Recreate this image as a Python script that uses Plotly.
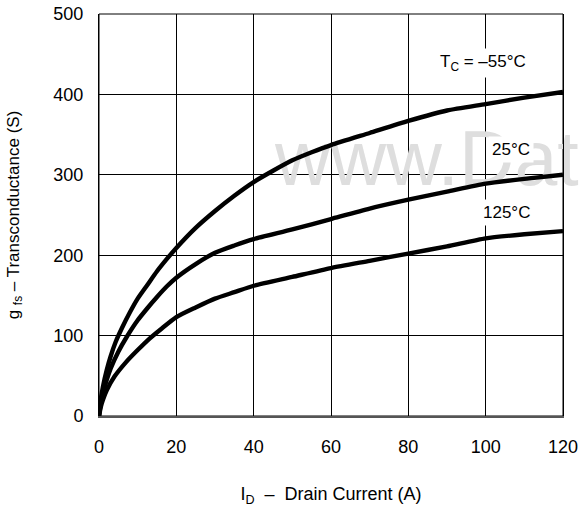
import plotly.graph_objects as go

# Drain current (A) and transconductance (S) for each case temperature
x_m55 = [0, 0.5, 1, 2, 3, 4.3, 6, 8, 10, 12.5, 15, 17.5, 20, 25, 30, 35, 40, 45, 50, 55, 60, 70, 80, 90, 100, 110, 120]
y_m55 = [0, 22, 36, 57, 74, 92, 110, 129, 146, 163, 180, 195, 209, 234, 255, 274, 291, 305, 318, 328, 337, 352, 367, 380, 388, 396, 403]

x_25 = [0, 0.5, 1, 2, 3, 5, 7, 10, 12.5, 15, 17.5, 20, 25, 30, 35, 40, 50, 60, 70, 80, 90, 100, 110, 120]
y_25 = [0, 17, 28, 45, 59, 80, 97, 119, 134, 148, 161, 172, 189, 203, 212, 220, 232, 245, 258, 269, 279, 289, 295, 300]

x_125 = [0, 0.5, 1, 2, 4, 7, 10, 13, 16, 20, 25, 30, 35, 40, 50, 60, 70, 80, 90, 100, 110, 120]
y_125 = [0, 12, 20, 32, 49, 67, 82, 96, 108, 123, 135, 146, 154, 162, 173, 184, 193, 202, 211, 221, 226, 230]

labels = ["T<sub>C</sub> = \u201355\u00b0C", "25\u00b0C", "125\u00b0C"]
label_x = [99.3, 106.5, 105.4]
label_y = [439, 332, 253]

x_ticks = [0, 20, 40, 60, 80, 100, 120]
y_ticks = [0, 100, 200, 300, 400, 500]

FONT = "Liberation Sans, Arial, sans-serif"

fig = go.Figure()

# faint watermark underneath the curves
fig.add_trace(go.Scatter(
    x=[45.5], y=[311], mode="text", text=["www.DataSheet4U.com"],
    textposition="middle right", cliponaxis=False, hoverinfo="skip",
    textfont=dict(family=FONT, size=77, color="#dedede"), showlegend=False))

for xs, ys in [(x_m55, y_m55), (x_25, y_25), (x_125, y_125)]:
    fig.add_trace(go.Scatter(
        x=xs, y=ys, mode="lines",
        line=dict(color="black", width=4.4, shape="spline", smoothing=0.6),
        showlegend=False))

for t, lx, ly in zip(labels, label_x, label_y):
    fig.add_annotation(x=lx, y=ly, text=t, showarrow=False, bgcolor="white",
                       borderpad=3,
                       font=dict(family=FONT, size=17, color="black"),
                       xanchor="center", yanchor="middle")

fig.update_layout(
    width=579, height=507,
    margin=dict(l=99, r=16, t=14, b=91, autoexpand=False),
    plot_bgcolor="white", paper_bgcolor="white",
    font=dict(family=FONT, size=18, color="black"),
)
fig.update_xaxes(
    range=[0, 120], tickvals=x_ticks, showgrid=True, gridcolor="black", gridwidth=1,
    showline=True, linecolor="#555555", linewidth=2, mirror=False, zeroline=False,
    ticks="", ticklabelstandoff=13, tickfont=dict(size=18),
    title=dict(text="I<sub>D</sub>  \u2013  Drain Current (A)", standoff=34,
               font=dict(family=FONT, size=18)))
fig.update_yaxes(
    range=[0, 500], tickvals=y_ticks, showgrid=True, gridcolor="black", gridwidth=1,
    showline=True, linecolor="black", linewidth=1, mirror=True, zeroline=False,
    ticks="", ticklabelstandoff=11, tickfont=dict(size=18),
    title=dict(text="g <sub>fs</sub> \u2013 Transconductance (S)", standoff=29,
               font=dict(family=FONT, size=17)))
# top and right border
fig.add_shape(type="rect", xref="paper", yref="paper", x0=0, y0=0, x1=1, y1=1,
              line=dict(color="black", width=1), layer="below")

fig.write_html("out.html")
